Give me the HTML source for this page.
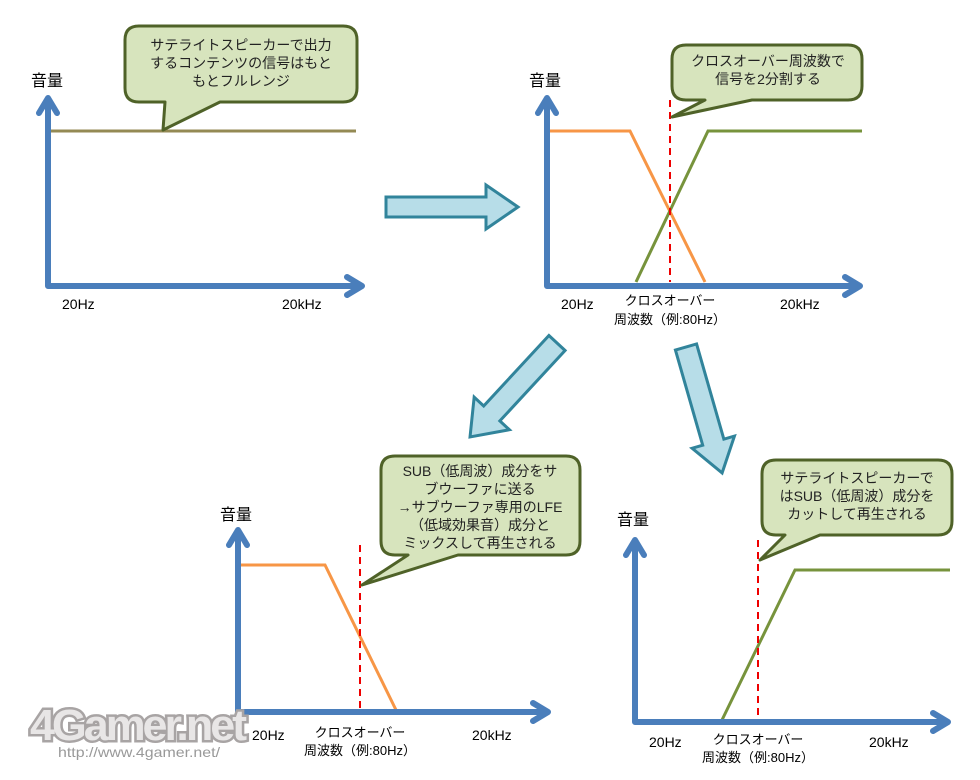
<!DOCTYPE html>
<html><head><meta charset="utf-8"><style>
html,body{margin:0;padding:0;background:#fff;}
svg{display:block;}
text{font-family:"Liberation Sans","Noto Sans CJK JP",sans-serif;fill:#000;}
.bt{font-size:14px;fill:#222;text-anchor:middle;}
.ax{fill:none;stroke:#4a7ebb;stroke-width:6;stroke-linecap:round;stroke-linejoin:round;}
.bub{fill:#d7e4bd;stroke:#4f6228;stroke-width:3;stroke-linejoin:round;}
.big{fill:#b7dde8;stroke:#31849b;stroke-width:3;}
.lab{font-size:14px;}
.sl{font-size:13px;text-anchor:middle;}
</style></head><body>
<svg width="980" height="780" viewBox="0 0 980 780" xmlns="http://www.w3.org/2000/svg">
<!-- Chart 1 -->
<line x1="50" y1="131" x2="356" y2="131" stroke="#948a54" stroke-width="3"/>
<path class="bub" d="M139,26 H343 Q357,26 357,40 V88 Q357,102 343,102 H220 L163,130 L165,102 H139 Q125,102 125,88 V40 Q125,26 139,26 Z"/>
<text class="bt" x="241" y="50">サテライトスピーカーで出力</text>
<text class="bt" x="241" y="68">するコンテンツの信号はもと</text>
<text class="bt" x="241" y="86">もとフルレンジ</text>
<text x="31" y="86" font-size="16">音量</text>
<path class="ax" d="M48,286 V98 M39,113 L48,98 L57,113 M48,286 H362 M347,277 L362,286 L347,295"/>
<text class="lab" x="62" y="309">20Hz</text>
<text class="lab" x="282" y="309">20kHz</text>

<!-- big right arrow -->
<polygon class="big" transform="translate(386,207)" points="0,-10 100,-10 100,-22 132,0 100,22 100,10 0,10"/>

<!-- Chart 2 -->
<polyline points="550,131 630,131 705,282" fill="none" stroke="#f79646" stroke-width="3"/>
<polyline points="636,282 708,131 862,131" fill="none" stroke="#77933c" stroke-width="3"/>
<line x1="670" y1="100" x2="670" y2="282" stroke="#e00" stroke-width="2" stroke-dasharray="7,5"/>
<path class="bub" d="M686,45 H848 Q862,45 862,59 V86 Q862,100 848,100 H752 L672,117 L705,100 H686 Q672,100 672,86 V59 Q672,45 686,45 Z"/>
<text class="bt" x="768" y="66">クロスオーバー周波数で</text>
<text class="bt" x="768" y="84">信号を2分割する</text>
<text x="529" y="86" font-size="16">音量</text>
<path class="ax" d="M547,286 V98 M538,113 L547,98 L556,113 M547,286 H860 M845,277 L860,286 L845,295"/>
<text class="lab" x="561" y="309">20Hz</text>
<text class="lab" x="780" y="309">20kHz</text>
<text class="sl" x="670" y="305">クロスオーバー</text>
<text class="sl" x="670" y="324">周波数（例:80Hz）</text>

<!-- diagonal arrows -->
<polygon class="big" transform="translate(557,343) rotate(132.8)" points="0,-11 96,-11 96,-24 128,0 96,24 96,11 0,11"/>
<polygon class="big" transform="translate(686,347) rotate(74)" points="0,-11 99,-11 99,-22 131,0 99,22 99,11 0,11"/>

<!-- Chart 3 -->
<polyline points="240,565 325,565 397,712" fill="none" stroke="#f79646" stroke-width="3"/>
<line x1="360" y1="545" x2="360" y2="712" stroke="#e00" stroke-width="2" stroke-dasharray="7,5"/>
<path class="bub" d="M395,456 H566 Q580,456 580,470 V541 Q580,555 566,555 H458 L362,585 L408,555 H395 Q381,555 381,541 V470 Q381,456 395,456 Z"/>
<text class="bt" x="480" y="476">SUB（低周波）成分をサ</text>
<text class="bt" x="480" y="494">ブウーファに送る</text>
<text class="bt" x="480" y="512">→サブウーファ専用のLFE</text>
<text class="bt" x="480" y="530">（低域効果音）成分と</text>
<text class="bt" x="480" y="548">ミックスして再生される</text>
<text x="220" y="520" font-size="16">音量</text>
<path class="ax" d="M238,712 V530 M229,545 L238,530 L247,545 M238,712 H548 M533,703 L548,712 L533,721"/>
<text class="lab" x="252" y="740">20Hz</text>
<text class="lab" x="472" y="740">20kHz</text>
<text class="sl" x="360" y="737">クロスオーバー</text>
<text class="sl" x="360" y="755">周波数（例:80Hz）</text>

<!-- Chart 4 -->
<polyline points="722,720 795,570 950,570" fill="none" stroke="#77933c" stroke-width="3"/>
<line x1="758" y1="540" x2="758" y2="718" stroke="#e00" stroke-width="2" stroke-dasharray="7,5"/>
<path class="bub" d="M776,460 H938 Q952,460 952,474 V521 Q952,535 938,535 H820 L760,560 L785,535 H776 Q762,535 762,521 V474 Q762,460 776,460 Z"/>
<text class="bt" x="857" y="483">サテライトスピーカーで</text>
<text class="bt" x="857" y="501">はSUB（低周波）成分を</text>
<text class="bt" x="857" y="519">カットして再生される</text>
<text x="617" y="525" font-size="16">音量</text>
<path class="ax" d="M635,722 V540 M626,555 L635,540 L644,555 M635,722 H948 M933,713 L948,722 L933,731"/>
<text class="lab" x="649" y="747">20Hz</text>
<text class="lab" x="869" y="747">20kHz</text>
<text class="sl" x="758" y="744">クロスオーバー</text>
<text class="sl" x="758" y="762">周波数（例:80Hz）</text>

<!-- logo -->
<text x="30" y="740" font-size="44" font-weight="bold" fill="#fff" stroke="#a8a4a4" stroke-width="5" paint-order="stroke" letter-spacing="-3" textLength="214" lengthAdjust="spacingAndGlyphs" style="fill:#e8e6e6">4Gamer.net</text>
<text x="58" y="757" font-size="14" style="fill:#999" textLength="162" lengthAdjust="spacingAndGlyphs">http://www.4gamer.net/</text>
</svg>
</body></html>
